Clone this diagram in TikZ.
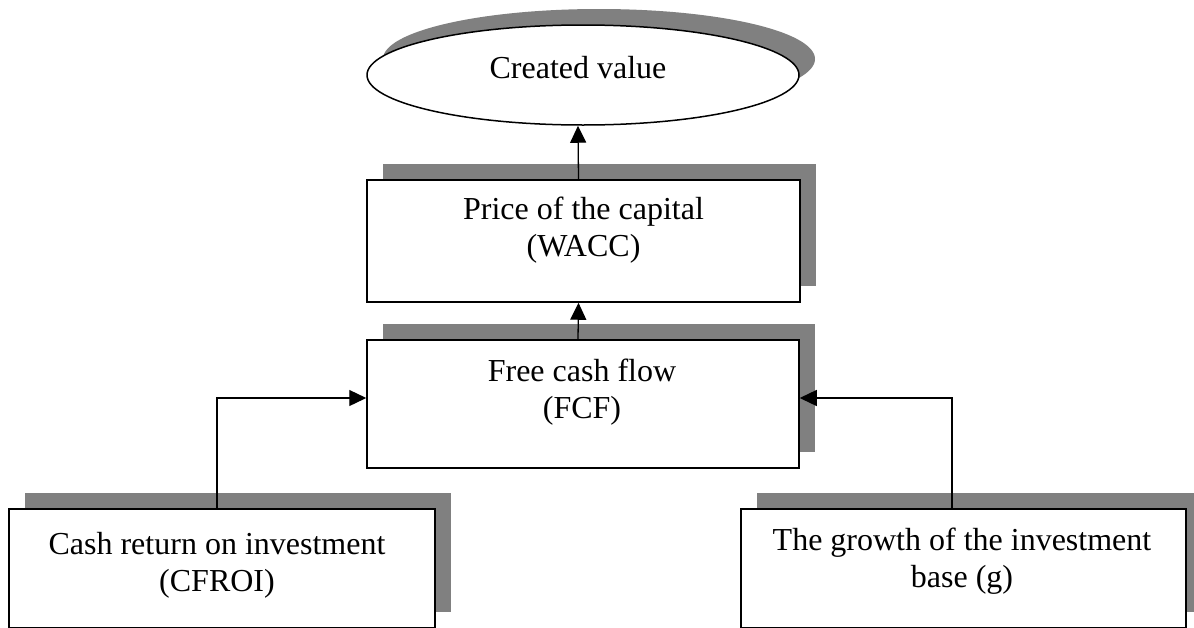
\documentclass[tikz,border=0pt]{standalone}
\usepackage{fontspec}
\setmainfont{Liberation Serif}
\usetikzlibrary{shapes.geometric,shadows,arrows.meta}
\begin{document}
\begin{tikzpicture}[x=1pt,y=-1pt,
  shadowed/.style={drop shadow={shadow xshift=16pt, shadow yshift=16pt, fill=gray, opacity=1}},
  box/.style={draw=black, line width=1.5pt, fill=white, rectangle, inner sep=0pt, shadowed},
  oval/.style={draw=black, line width=1.5pt, fill=white, ellipse, inner sep=0pt, shadowed},
  lbl/.style={align=center, font=\fontsize{32}{37.5}\selectfont, inner sep=0pt, anchor=base},
  arr/.style={line width=1.3pt, -{Triangle[length=17pt,width=16pt]}}]
\useasboundingbox (0,0) rectangle (1194,627);
\clip (0,0) rectangle (1194,627);
\node[oval, minimum width=432, minimum height=100] (cv) at (583,75) {};
\node[box, minimum width=433, minimum height=122] (wacc) at (583.5,241) {};
\node[box, minimum width=432, minimum height=128] (fcf) at (583,404) {};
\node[box, minimum width=426, minimum height=119] (cfroi) at (222,568.5) {};
\node[box, minimum width=445, minimum height=119] (growth) at (963.5,568.5) {};
\node[lbl] (t0) at (578,78) {Created value};
\node[lbl] (t1) at (583.5,256.5) {Price of the capital\\(WACC)};
\node[lbl] (t2) at (582,418.5) {Free cash flow\\(FCF)};
\node[lbl] (t3) at (217,591.5) {Cash return on investment\\(CFROI)};
\node[lbl] (t4) at (962,587.5) {The growth of the investment\\base (g)};
\draw[arr] ([xshift=-5pt]wacc.north) -- ([xshift=-5pt]cv.south);
\draw[arr] ([xshift=-5pt]fcf.north) -- ([xshift=-5pt]wacc.south);
\draw[arr] ([xshift=-5pt]cfroi.north) |- ([yshift=6pt]fcf.west);
\draw[arr] ([xshift=-11.5pt]growth.north) |- ([yshift=6pt]fcf.east);
\end{tikzpicture}
\end{document}
